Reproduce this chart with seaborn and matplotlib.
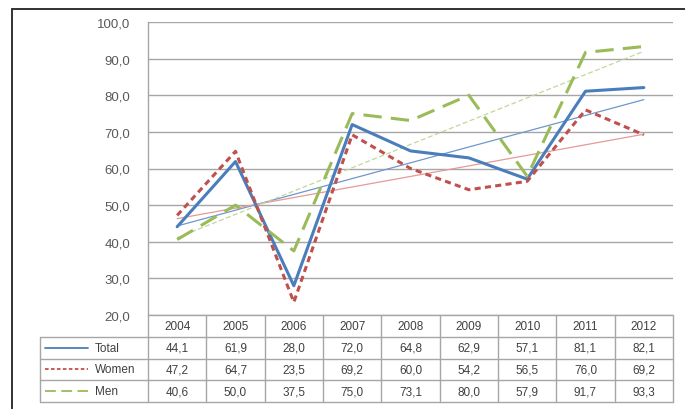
import numpy as np
import pandas as pd
import matplotlib
matplotlib.use("Agg")
import matplotlib.pyplot as plt
import seaborn as sns
from matplotlib.patches import Rectangle

# data
years = ["2004", "2005", "2006", "2007", "2008", "2009", "2010", "2011", "2012"]
total = [44.1, 61.9, 28.0, 72.0, 64.8, 62.9, 57.1, 81.1, 82.1]
women = [47.2, 64.7, 23.5, 69.2, 60.0, 54.2, 56.5, 76.0, 69.2]
men = [40.6, 50.0, 37.5, 75.0, 73.1, 80.0, 57.9, 91.7, 93.3]
series_names = ["Total", "Women", "Men"]
y_ticks = [20, 30, 40, 50, 60, 70, 80, 90, 100]

colors = {"Total": "#4A7EBB", "Women": "#C0504D", "Men": "#9BBB59"}
trend_colors = {"Total": "#6F97CC", "Women": "#E59A98", "Men": "#C2D79A"}
dashes = {"Total": "", "Women": (2, 1.4), "Men": (6, 3)}

df = pd.DataFrame({
    "x": list(range(len(years))) * 3,
    "value": total + women + men,
    "series": np.repeat(series_names, len(years)),
})

sns.set_theme(style="white")
plt.rcParams["font.family"] = ["Liberation Sans", "DejaVu Sans"]

fig = plt.figure(figsize=(6.85, 4.1), dpi=100)
W, H = 685, 410

# outer frame (only left / top visible in the picture)
fig.add_artist(Rectangle((12 / W, -0.1), 1.2, 1 - 10 / H + 0.1, transform=fig.transFigure,
                         fill=False, edgecolor="#222222", linewidth=1.3))

ax = fig.add_axes([148 / W, 1 - 316 / H, 525 / W, (316 - 23) / H])

# thin linear trend lines
for name in series_names:
    sub = df[df["series"] == name]
    sns.regplot(data=sub, x="x", y="value", scatter=False, ci=None, truncate=True, ax=ax,
                line_kws={"color": trend_colors[name], "linewidth": 0.9,
                          "linestyle": (0, (4, 2)) if name == "Men" else "-"})

sns.lineplot(data=df, x="x", y="value", hue="series", style="series",
             palette=colors, dashes=dashes, linewidth=2.2, ax=ax, legend=False)

ax.set_xlim(-0.5, len(years) - 0.5)
ax.set_ylim(20, 100)
ax.set_yticks(y_ticks)
ax.set_yticklabels([f"{v:.1f}".replace(".", ",") for v in y_ticks], color="#595959", fontsize=9.5)
ax.tick_params(axis="y", length=0, pad=13)
ax.set_xticks([])
ax.set_xlabel("")
ax.set_ylabel("")
ax.grid(axis="y", color="#A6A6A6", linewidth=1.0)
for s in ["top", "right", "bottom"]:
    ax.spines[s].set_visible(False)
ax.spines["left"].set_color("#A6A6A6")
ax.spines["left"].set_linewidth(1.0)

# data table below the plot
tab = fig.add_axes([40 / W, 1 - 403 / H, (673 - 40) / W, (403 - 316) / H])
col_w = 525 / len(years)
lab_w = (148 - 40) / col_w
x0 = -0.5 - lab_w
x1 = len(years) - 0.5
tab.set_xlim(x0, x1)
tab.set_ylim(0, 4)
tab.axis("off")
line_c = "#A6A6A6"
txt_c = "#404040"

# horizontal lines
tab.plot([-0.5, x1], [4, 4], color=line_c, lw=1, clip_on=False)
for yy in [3, 2, 1, 0]:
    tab.plot([x0, x1], [yy, yy], color=line_c, lw=1, clip_on=False)
# vertical lines
tab.plot([x0, x0], [0, 3], color=line_c, lw=1, clip_on=False)
for j in range(len(years) + 1):
    tab.plot([j - 0.5, j - 0.5], [0, 4], color=line_c, lw=1, clip_on=False)

for j, yr in enumerate(years):
    tab.text(j, 3.5, yr, ha="center", va="center", fontsize=8.5, color=txt_c)

rows = {"Total": total, "Women": women, "Men": men}
for i, name in enumerate(series_names):
    yc = 2.5 - i
    for j, v in enumerate(rows[name]):
        tab.text(j, yc, f"{v:.1f}".replace(".", ","), ha="center", va="center",
                 fontsize=8.5, color=txt_c)
    sx0 = x0 + 5 / col_w
    sx1 = x0 + 48 / col_w
    ls = "-" if name == "Total" else ((0, (2, 1.3)) if name == "Women" else (0, (6, 3)))
    tab.plot([sx0, sx1], [yc, yc], color=colors[name], lw=1.3, linestyle=ls, clip_on=False)
    tab.text(x0 + 55 / col_w, yc, name, ha="left", va="center", fontsize=8.5, color=txt_c)

fig.savefig("out.png", dpi=100)
